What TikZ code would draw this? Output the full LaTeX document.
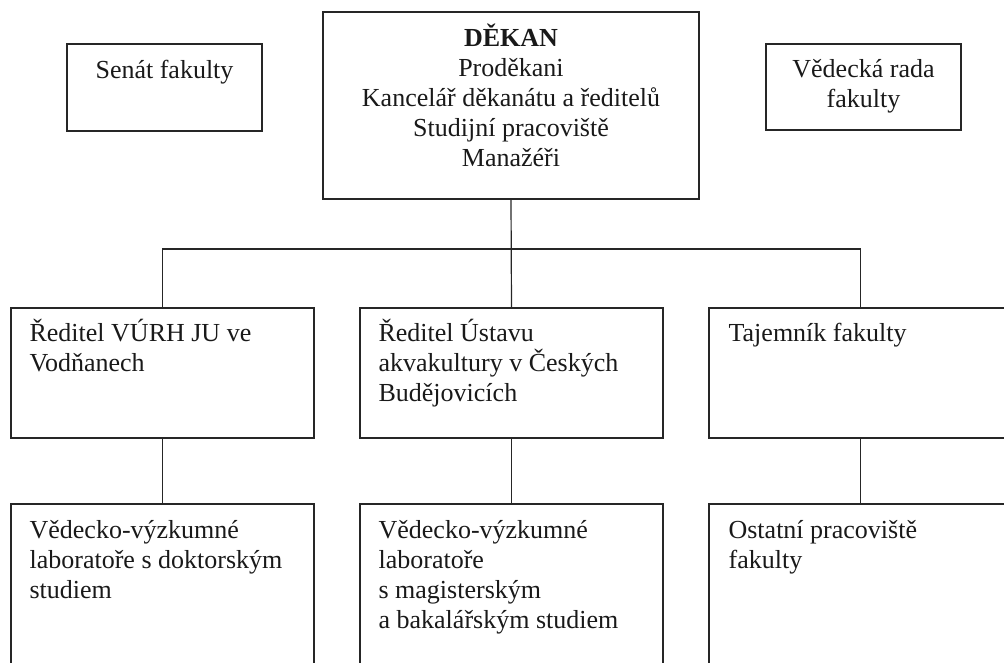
\documentclass[tikz,border=0pt]{standalone}
\usepackage{fontspec}
\setmainfont{Liberation Serif}
\tikzset{
  orgbox/.style={draw=black!85, line width=1.2pt, rectangle, inner sep=0pt},
  txt/.style={inner sep=0pt, font=\fontsize{26}{30}\selectfont, text=black!90},
  lefttxt/.style={txt, align=left, anchor=north west},
  midtxt/.style={txt, align=center, anchor=north},
  link/.style={draw=black!85, line width=1.2pt}
}
\newcommand{\topline}{\rule{0pt}{24pt}}
\begin{document}
\begin{tikzpicture}[x=1pt, y=-1pt]
  \useasboundingbox (0,0) rectangle (1004,662);
  \clip (0,0) rectangle (1004,662);

  % top level
  \node[orgbox, minimum width=195pt, minimum height=87pt]  (senat) at (164.5,87.5) {};
  \node[orgbox, minimum width=376pt, minimum height=187pt] (dean)  at (511,105.5) {};
  \node[orgbox, minimum width=195pt, minimum height=86pt]  (rada)  at (863.5,87) {};

  % second row
  \node[orgbox, minimum width=303pt, minimum height=130pt] (r1) at (162.5,373) {};
  \node[orgbox, minimum width=303pt, minimum height=130pt] (r2) at (511.5,373) {};
  \node[orgbox, minimum width=303pt, minimum height=130pt] (r3) at (860.5,373) {};

  % third row
  \node[orgbox, minimum width=303pt, minimum height=186pt] (l1) at (162.5,597) {};
  \node[orgbox, minimum width=303pt, minimum height=186pt] (l2) at (511.5,597) {};
  \node[orgbox, minimum width=303pt, minimum height=186pt] (l3) at (860.5,597) {};

  % labels
  \node[midtxt, yshift=-11pt] (tsenat) at (senat.north) {\topline Senát fakulty};
  \node[midtxt, yshift=-11pt] (tdean) at (dean.north)
    {\topline\textbf{DĚKAN}\\Proděkani\\Kancelář děkanátu a ředitelů\\Studijní pracoviště\\Manažéři};
  \node[midtxt, yshift=-10pt] (trada) at (rada.north) {\topline Vědecká rada\\fakulty};

  \node[lefttxt, xshift=19pt, yshift=-10pt] (tr1) at (r1.north west)
    {\topline Ředitel VÚRH JU ve\\Vodňanech};
  \node[lefttxt, xshift=19pt, yshift=-10pt] (tr2) at (r2.north west)
    {\topline Ředitel Ústavu\\akvakultury v Českých\\Budějovicích};
  \node[lefttxt, xshift=20pt, yshift=-10pt] (tr3) at (r3.north west)
    {\topline Tajemník fakulty};

  \node[lefttxt, xshift=19pt, yshift=-11pt] (tl1) at (l1.north west)
    {\topline Vědecko-výzkumné\\laboratoře s doktorským\\studiem};
  \node[lefttxt, xshift=19pt, yshift=-11pt] (tl2) at (l2.north west)
    {\topline Vědecko-výzkumné\\laboratoře\\s magisterským\\a bakalářským studiem};
  \node[lefttxt, xshift=20pt, yshift=-11pt] (tl3) at (l3.north west)
    {\topline Ostatní pracoviště\\fakulty};

  % connectors
  \coordinate (bus) at (dean.south |- 0,249);
  \draw[link] (dean.south) -- (r2.north);
  \draw[link] (r1.north) |- (bus) -| (r3.north);
  \draw[link] (r1.south) -- (l1.north);
  \draw[link] (r2.south) -- (l2.north);
  \draw[link] (r3.south) -- (l3.north);
\end{tikzpicture}
\end{document}
